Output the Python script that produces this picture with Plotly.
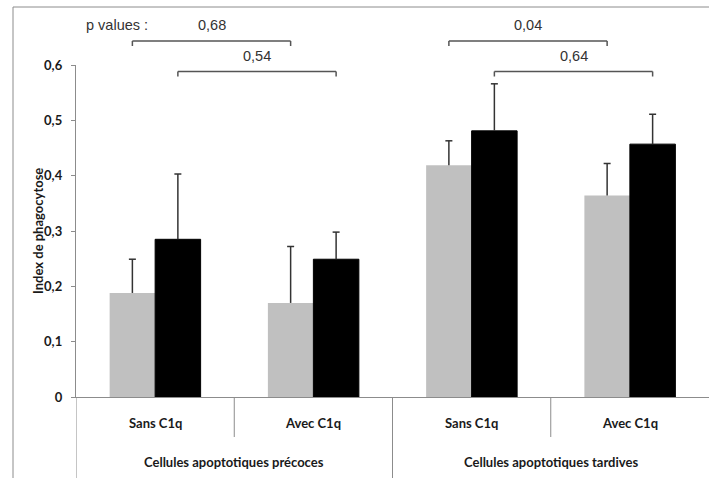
import plotly.graph_objects as go

# ---- data ----
inner_labels = ["Sans C1q", "Avec C1q", "Sans C1q", "Avec C1q"]
outer_labels = ["Cellules apoptotiques précoces", "Cellules apoptotiques tardives"]
gray_values = [0.188, 0.170, 0.419, 0.364]
gray_errors = [0.061, 0.102, 0.044, 0.058]
black_values = [0.285, 0.249, 0.481, 0.457]
black_errors = [0.118, 0.049, 0.085, 0.054]
y_tick_values = [0, 0.1, 0.2, 0.3, 0.4, 0.5, 0.6]
y_tick_labels = ["0", "0,1", "0,2", "0,3", "0,4", "0,5", "0,6"]
p_labels = ["0,68", "0,54", "0,04", "0,64"]
p_pairs = [(0, 1, "gray"), (0, 1, "black"), (2, 3, "gray"), (2, 3, "black")]

# ---- layout constants (px) ----
W, H = 709, 478
ML, MR, MT, MB = 76, 0, 65, 81
PW, PH = W - ML - MR, H - MT - MB
BAR_W = 0.2875

def py(px_y):
    """pixel y -> paper y"""
    return 1 - (px_y - MT) / PH

def pxx(px_x):
    return (px_x - ML) / PW

xs = list(range(len(inner_labels)))
AXIS_COLOR = "#8c8c8c"
ERR_COLOR = "#333333"
BOLD = "Lato"
LABEL_FONT = dict(family=BOLD, size=13, color="#1a1a1a", weight="bold")
offsets = {"gray": -BAR_W / 2, "black": BAR_W / 2}

fig = go.Figure()
series = [
    ("gray", gray_values, gray_errors, "#c0c0c0", 0),
    ("black", black_values, black_errors, "#000000", 1),
]
for name, vals, errs, color, lw in series:
    fig.add_trace(go.Bar(
        x=xs, y=vals, width=BAR_W, offset=(-BAR_W if name == "gray" else 0),
        marker=dict(color=color, line=dict(width=lw, color="#000000")),
        error_y=dict(type="data", array=errs, arrayminus=[0] * len(errs),
                     symmetric=False, color=ERR_COLOR, thickness=1.5, width=0),
        showlegend=False, hoverinfo="skip",
    ))
    # top caps of the error bars
    fig.add_trace(go.Scatter(
        x=[x + offsets[name] for x in xs],
        y=[v + e for v, e in zip(vals, errs)],
        mode="markers",
        marker=dict(symbol="line-ew", size=5, line=dict(width=1.5, color=ERR_COLOR)),
        showlegend=False, hoverinfo="skip",
    ))

shapes = []
annotations = []

# outer frame (left + top)
shapes.append(dict(type="line", xref="paper", yref="paper",
                   x0=pxx(13), x1=pxx(13), y0=py(H), y1=py(7),
                   line=dict(color=AXIS_COLOR, width=1)))
shapes.append(dict(type="line", xref="paper", yref="paper",
                   x0=pxx(13), x1=1, y0=py(7), y1=py(7),
                   line=dict(color=AXIS_COLOR, width=1)))

# category dividers under the axis
for i in range(len(inner_labels)):
    b = i - 0.5
    y_end = py(H) if i % 2 == 0 else py(437)
    shapes.append(dict(type="line", xref="x", yref="paper",
                       x0=b, x1=b, y0=0, y1=y_end,
                       line=dict(color=AXIS_COLOR, width=1)))

# inner labels
for i, lab in enumerate(inner_labels):
    annotations.append(dict(x=i, y=py(423), xref="x", yref="paper", text=lab,
                            showarrow=False, yanchor="middle", font=LABEL_FONT))
# outer labels
for j, lab in enumerate(outer_labels):
    annotations.append(dict(x=2 * j + 0.5, y=py(462), xref="x", yref="paper", text=lab,
                            showarrow=False, yanchor="middle", font=LABEL_FONT))

# y axis title
annotations.append(dict(x=pxx(28), y=0.5, xref="paper", yref="paper",
                        text="Index de phagocytose", textangle=-90, showarrow=False,
                        font=LABEL_FONT))

# p-value brackets
P_FONT = dict(family="Liberation Sans", size=14.5, color="#333333")
annotations.append(dict(x=pxx(84), y=py(25), xref="paper", yref="paper",
                        text="p values :", showarrow=False, xanchor="left", yanchor="middle",
                        font=P_FONT))
for k, ((a, b, s), lab) in enumerate(zip(p_pairs, p_labels)):
    x0 = a + offsets[s]
    x1 = b + offsets[s]
    level = k % 2
    y_line = py(41 if level == 0 else 71.5)
    y_tick = py(46 if level == 0 else 76.5)
    y_text = py(25 if level == 0 else 56)
    col = "#555555"
    shapes.append(dict(type="line", xref="x", yref="paper", x0=x0, x1=x1,
                       y0=y_line, y1=y_line, line=dict(color=col, width=1.5)))
    for xx in (x0, x1):
        shapes.append(dict(type="line", xref="x", yref="paper", x0=xx, x1=xx,
                           y0=y_line, y1=y_tick, line=dict(color=col, width=1.5)))
    annotations.append(dict(x=(x0 + x1) / 2, y=y_text, xref="x", yref="paper",
                            text=lab, showarrow=False, yanchor="middle", font=P_FONT))

fig.update_layout(
    width=W, height=H,
    margin=dict(l=ML, r=MR, t=MT, b=MB, pad=0),
    plot_bgcolor="white", paper_bgcolor="white",
    barmode="overlay", hovermode=False,
    shapes=shapes, annotations=annotations,
    xaxis=dict(range=[-0.5, len(inner_labels) - 0.5], showticklabels=False,
               showgrid=False, zeroline=False, showline=True,
               linecolor=AXIS_COLOR, linewidth=1.2, ticks="", fixedrange=True),
    yaxis=dict(range=[0, 0.6], tickvals=y_tick_values, ticktext=y_tick_labels,
               showgrid=False, zeroline=False, showline=True,
               linecolor=AXIS_COLOR, linewidth=1.2, ticks="outside", ticklen=4,
               tickcolor=AXIS_COLOR, ticklabelstandoff=6, fixedrange=True,
               tickfont=LABEL_FONT),
)

fig.write_html("out.html", config={"displayModeBar": False, "staticPlot": True},
               post_script="document.body.style.margin='0';")
